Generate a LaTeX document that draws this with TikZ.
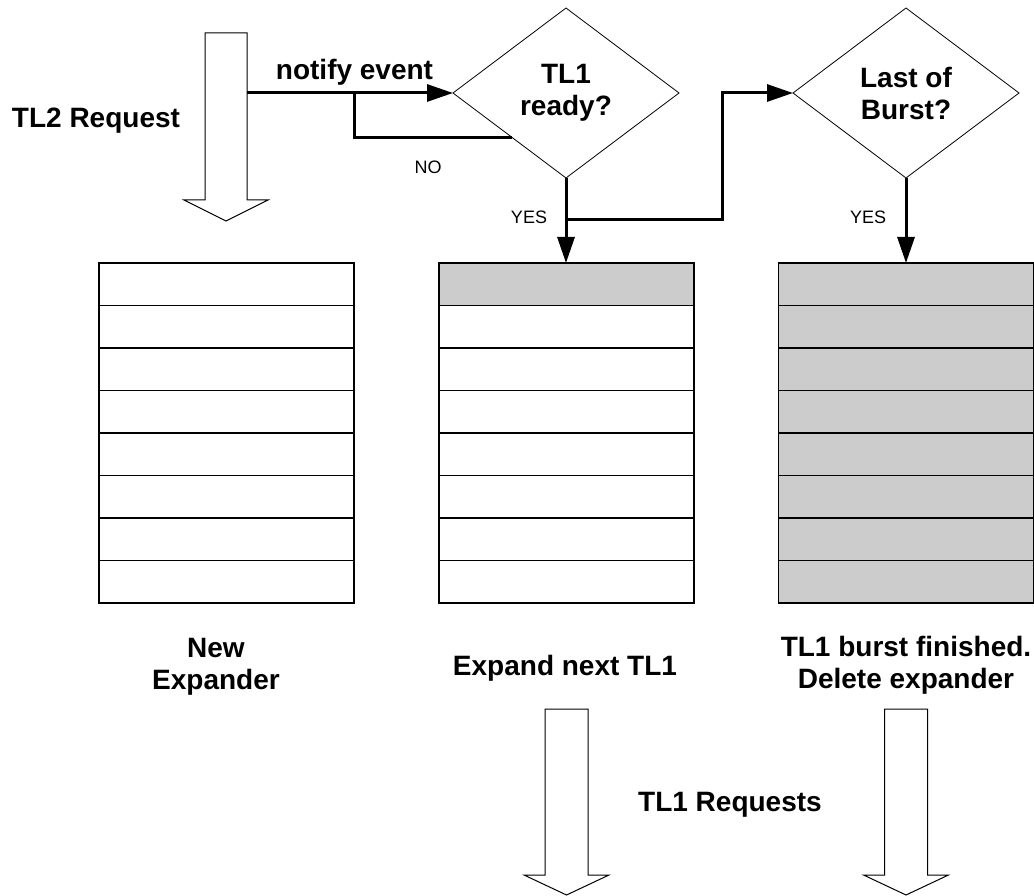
\documentclass[tikz,border=0pt]{standalone}
\usepackage{fontspec}
\setmainfont{Liberation Sans}
\usetikzlibrary{shapes.geometric,arrows.meta}
\definecolor{cellgray}{RGB}{204,204,204}
\begin{document}
\begin{tikzpicture}[x=1pt,y=-1pt,
  lbl/.style={font=\bfseries\fontsize{28}{32}\selectfont, inner sep=0pt, align=center},
  small/.style={font=\fontsize{18}{21}\selectfont, inner sep=0pt},
  decision/.style={draw, diamond, line width=0.8pt, minimum width=226pt, minimum height=170pt,
    inner sep=0pt, outer sep=0pt, align=center, font=\bfseries\fontsize{28}{32}\selectfont},
  cell/.style={draw, line width=1.3pt, minimum width=255pt, minimum height=42.5pt,
    inner sep=0pt, outer sep=0pt, anchor=north west},
  filled/.style={fill=cellgray},
  flow/.style={line width=3pt, -{Triangle[length=26pt,width=17pt]}},
  plainflow/.style={line width=3pt},
  blockarrow/.style={draw, line width=1pt, fill=white, line join=miter},
]
\useasboundingbox (0,0) rectangle (1034,896);

% decisions
\node[decision] (d1) at (566,93) {TL1\\ready?};
\node[decision] (d2) at (906,93) {Last of\\Burst?};

% expander columns
\foreach \i in {1,...,8} {
  \node[cell] (a\i) at (99,{263+(\i-1)*42.5}) {};
}
\node[cell,filled] (b1) at (439,263) {};
\foreach \i in {2,...,8} {
  \node[cell] (b\i) at (439,{263+(\i-1)*42.5}) {};
}
\foreach \i in {1,...,8} {
  \node[cell,filled] (c\i) at (778.5,{263+(\i-1)*42.5}) {};
}

% block arrows
\draw[blockarrow] (205,33) -- (247,33) -- (247,200) -- (268,200) -- (226,221)
  -- (184,200) -- (205,200) -- cycle;
\draw[blockarrow] (545,709) -- (588,709) -- (588,875) -- (609,875) -- (566.5,895)
  -- (524,875) -- (545,875) -- cycle;
\draw[blockarrow] (884.5,709) -- (927.5,709) -- (927.5,875) -- (948.5,875) -- (906,895)
  -- (863.5,875) -- (884.5,875) -- cycle;

% connector coordinates
\coordinate (n0) at (247,93);
\coordinate (nb) at (354,93);
\path (d1.west) -- (d1.south) coordinate[pos=0.518] (noend);
\coordinate (j1) at (566,220);
\coordinate (j2) at (722,220);

% connectors
\draw[flow] (n0) -- (d1.west);
\draw[plainflow] (nb) |- (noend);
\draw[flow] (d1.south) -- (b1.north -| d1.south);
\draw[flow] (j1) -- (j2) |- (d2.west);
\draw[flow] (d2.south) -- (c1.north -| d2.south);

% labels
\node[lbl, anchor=base] (tl2) at (96,128) {TL2 Request};
\node[lbl, anchor=base] (notify) at (354.5,80) {notify event};
\node[small, anchor=base] (no) at (428,174) {NO};
\node[small, anchor=base] (yes1) at (529,224) {YES};
\node[small, anchor=base] (yes2) at (868,224) {YES};
\node[lbl] (newexp) at (216,667) {New\\Expander};
\node[lbl, anchor=base] (expnext) at (565,675) {Expand next TL1};
\node[lbl] (burst) at (906,665) {TL1 burst finished.\\Delete expander};
\node[lbl, anchor=base] (tl1req) at (730,811) {TL1 Requests};
\end{tikzpicture}
\end{document}
